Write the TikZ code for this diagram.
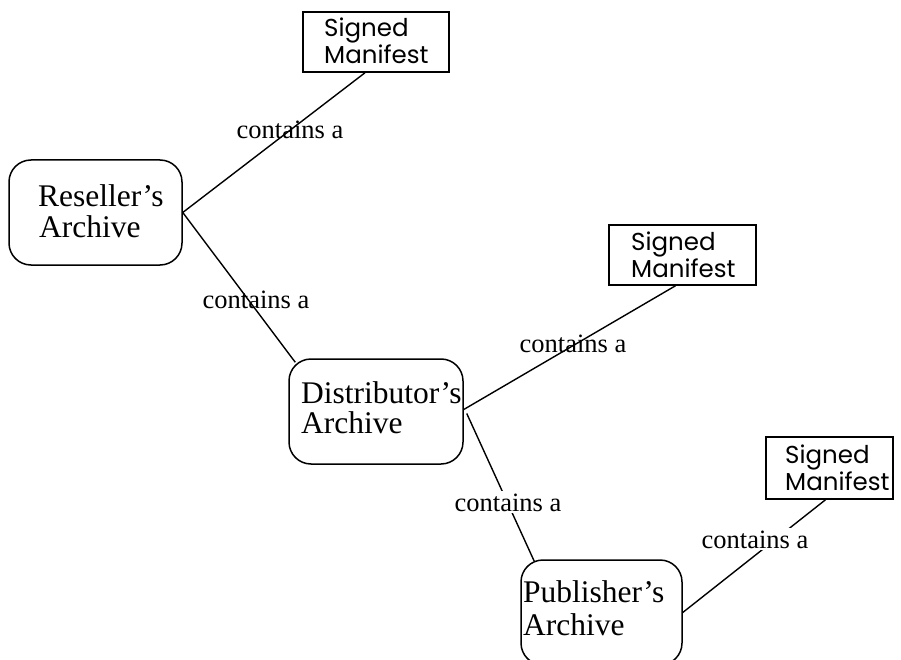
\documentclass[tikz,border=0pt]{standalone}
\usepackage{fontspec}
\setmainfont{Liberation Serif}
\newfontfamily\manfont{Poppins}
\begin{document}
\begin{tikzpicture}[x=1pt,y=-1pt,
  archbox/.style={draw, rounded corners=22pt, line width=1.5pt, inner sep=0pt, minimum height=105pt},
  manbox/.style={draw, line width=1.5pt, inner sep=0pt},
  conn/.style={line width=1.4pt},
  archtext/.style={anchor=base west, inner sep=0pt, font=\fontsize{31.5}{30}\selectfont},
  mantext/.style={anchor=base west, inner sep=0pt, font=\manfont\fontsize{24.5}{27}\selectfont},
  rel/.style={anchor=base, inner sep=1pt, font=\fontsize{26.5}{28}\selectfont},
  relw/.style={rel, fill=white, inner sep=2pt}]
\useasboundingbox (0,0) rectangle (901,660);
% archive boxes
\node[archbox, minimum width=173pt] (r) at (95.5,212.5) {};
\node[archbox, minimum width=174pt] (d) at (376,411.5) {};
\node[archbox, minimum width=161pt] (p) at (601.5,612.5) {};
% manifest boxes
\node[manbox, minimum width=146pt, minimum height=60pt] (m1) at (376,42) {};
\node[manbox, minimum width=147pt, minimum height=60pt] (m2) at (682.5,255) {};
\node[manbox, minimum width=127pt, minimum height=62pt] (m3) at (829.5,468) {};
% archive texts
\node[archtext] (rt1) at (38,207) {Reseller’s};
\node[archtext] (rt2) at (39,237) {Archive};
\node[archtext] (dt1) at (301,403) {Distributor’s};
\node[archtext] (dt2) at (301,433) {Archive};
\node[archtext] (pt1) at (523,602) {Publisher’s};
\node[archtext] (pt2) at (523,635) {Archive};
% manifest texts
\node[mantext] (m1a) at (324,37) {Signed};
\node[mantext] (m1b) at (324,64) {Manifest};
\node[mantext] (m2a) at (631,250) {Signed};
\node[mantext] (m2b) at (631,277) {Manifest};
\node[mantext] (m3a) at (785,463) {Signed};
\node[mantext] (m3b) at (785,490) {Manifest};
% connectors
\draw[conn] (r.east) -- ([xshift=-11pt]m1.south);
\draw[conn] (r.east) -- ([xshift=7pt,yshift=-4pt]d.north west);
\draw[conn] ([yshift=2pt]d.east) -- ([xshift=-7pt]m2.south);
\draw[conn] ([xshift=3pt,yshift=-2pt]d.east) -- ([xshift=14pt,yshift=-2pt]p.north west);
\draw[conn] (p.east) -- ([xshift=-4pt]m3.south);
% relation labels
\node[rel] (l1) at (290,139) {contains a};
\node[rel] (l2) at (256,308) {contains a};
\node[rel] (l3) at (573,352) {contains a};
\node[relw] (l4) at (508,511) {contains a};
\node[relw] (l5) at (755,548) {contains a};
\end{tikzpicture}
\end{document}
